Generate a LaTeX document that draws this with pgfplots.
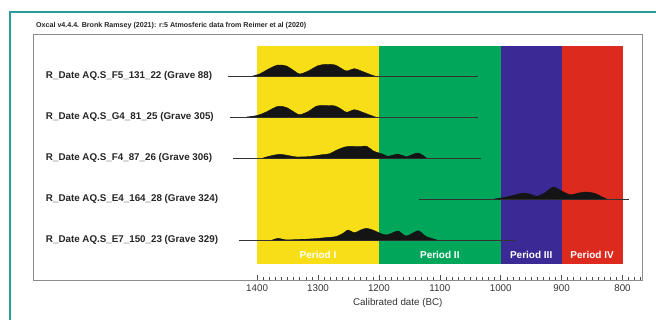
\documentclass[border=0pt]{standalone}
\usepackage{pgfplots}
\pgfplotsset{compat=1.18}
\usepackage{fontspec}
\setmainfont{Liberation Sans}
\definecolor{pyellow}{HTML}{F8DE16}
\definecolor{pgreen}{HTML}{00A65A}
\definecolor{pblue}{HTML}{3B2A95}
\definecolor{pred}{HTML}{DC2A1F}
\definecolor{tealb}{HTML}{2A9C9B}
\definecolor{framec}{HTML}{8C8C8C}
\begin{document}
\begin{tikzpicture}[x=1bp,y=1bp]
\useasboundingbox (0,0) rectangle (656,320);
\fill[white] (0,0) rectangle (656,320);
\draw[tealb, line width=1.6bp] (10,0) -- (10,308) -- (656,308);
\node[anchor=west, font=\fontsize{7.1bp}{8.5bp}\selectfont\bfseries, text=black!85, inner sep=0pt] at (36,294) {Oxcal v4.4.4. Bronk Ramsey (2021): r:5 Atmosferic data from Reimer et al (2020)};
\begin{axis}[at={(33bp,40bp)}, anchor=south west, scale only axis, width=609bp, height=246bp,
 xmin=768, xmax=1768, ymin=0, ymax=246, x dir=reverse,
 axis line style={framec, line width=0.9bp},
 xtick={800,900,...,1400}, minor xtick={770,780,...,1400},
 ytick=\empty, xtick pos=left, tick align=inside,
 major tick length=5bp, minor tick length=3bp,
 tick style={black!70, line width=0.6bp},
 xticklabel style={font=\fontsize{9.8bp}{11bp}\selectfont, text=black!80, yshift=-1bp},
 /pgf/number format/assume math mode=true,
 /pgf/number format/set thousands separator={},
 clip=false]
% period bands
\addplot[fill=pyellow, draw=none] coordinates {(1400,16) (1200,16) (1200,234) (1400,234)} -- cycle;
\addplot[fill=pgreen, draw=none] coordinates {(1200,16) (1000,16) (1000,234) (1200,234)} -- cycle;
\addplot[fill=pblue, draw=none] coordinates {(1000,16) (900,16) (900,234) (1000,234)} -- cycle;
\addplot[fill=pred, draw=none] coordinates {(900,16) (800,16) (800,234) (900,234)} -- cycle;
% baselines
\addplot[black!80, line width=0.7bp] coordinates {(1448,204) (1038,204)};
\addplot[black!80, line width=0.7bp] coordinates {(1445,163) (1038,163)};
\addplot[black!80, line width=0.7bp] coordinates {(1440,122) (1033,122)};
\addplot[black!80, line width=0.7bp] coordinates {(1135,81) (790,81)};
\addplot[black!80, line width=0.7bp] coordinates {(1430,40) (976,40)};
% distributions
\addplot[fill=black!92, draw=black!92, smooth, tension=0.5] coordinates {
(1407,204) (1396,206) (1379,211.7) (1366,215) (1352,214) (1338,208.7) (1330,206) (1316,209) (1300,214.3) (1286,215.7) (1272,215) (1261,211.3) (1253,209) (1240,211.3) (1229,209) (1212,205) (1207,204)} -- cycle;
\addplot[fill=black!92, draw=black!92, smooth, tension=0.5] coordinates {
(1417,163) (1400,164.5) (1385,168) (1366,173.7) (1352,172.5) (1338,167.5) (1330,165.3) (1316,168.5) (1302,174) (1288,174.5) (1272,174) (1261,170.5) (1253,167.7) (1240,170.3) (1228,168) (1215,165) (1206,163)} -- cycle;
\addplot[fill=black!92, draw=black!92, smooth, tension=0.5] coordinates {
(1390,122) (1382,123.5) (1363,125.7) (1345,124) (1335,123) (1313,123.5) (1297,125) (1281,126.3) (1270,129.7) (1256,133) (1245,133.7) (1234,133.3) (1220,133.7) (1209,129) (1193,125.7) (1185,123.7) (1168,126) (1155,123.3) (1136,127) (1122,122)} -- cycle;
\addplot[fill=black!92, draw=black!92, smooth, tension=0.5] coordinates {
(1010,81) (995,82.5) (980,84.5) (963,87) (950,85.5) (941,83.7) (928,87) (914,93) (903,90) (886,85.3) (872,87) (859,88) (845,86.5) (835,83.5) (826,81)} -- cycle;
\addplot[fill=black!92, draw=black!92, smooth, tension=0.5] coordinates {
(1375,40) (1365,41.7) (1355,40.3) (1340,40.3) (1320,40.8) (1302,41.5) (1285,42.5) (1270,43.5) (1258,47) (1251,50) (1240,47.3) (1230,50) (1220,51.7) (1208,49.5) (1198,46.7) (1188,45) (1178,47) (1168,49) (1155,44) (1136,49.3) (1128,46) (1122,43.3) (1105,40)} -- cycle;
% row labels
\tikzset{rowlab/.style={anchor=west, inner sep=0pt, font=\fontsize{9.8bp}{11bp}\selectfont\bfseries, text=black!85}}
\node[rowlab] at (axis cs:1747,204) {R\_Date AQ.S\_F5\_131\_22 (Grave 88)};
\node[rowlab] at (axis cs:1747,163) {R\_Date AQ.S\_G4\_81\_25 (Grave 305)};
\node[rowlab] at (axis cs:1747,122) {R\_Date AQ.S\_F4\_87\_26 (Grave 306)};
\node[rowlab] at (axis cs:1747,81) {R\_Date AQ.S\_E4\_164\_28 (Grave 324)};
\node[rowlab] at (axis cs:1747,40) {R\_Date AQ.S\_E7\_150\_23 (Grave 329)};
% period labels
\tikzset{perlab/.style={inner sep=0pt, font=\fontsize{10bp}{11bp}\selectfont\bfseries, text=white}}
\node[perlab] at (axis cs:1300,25) {Period I};
\node[perlab] at (axis cs:1100,25) {Period II};
\node[perlab] at (axis cs:950,25) {Period III};
\node[perlab] at (axis cs:850,25) {Period IV};
% axis label
\node[inner sep=0pt, font=\fontsize{9.8bp}{11bp}\selectfont, text=black!80] at (axis cs:1169,-23) {Calibrated date (BC)};
\end{axis}
\end{tikzpicture}
\end{document}
